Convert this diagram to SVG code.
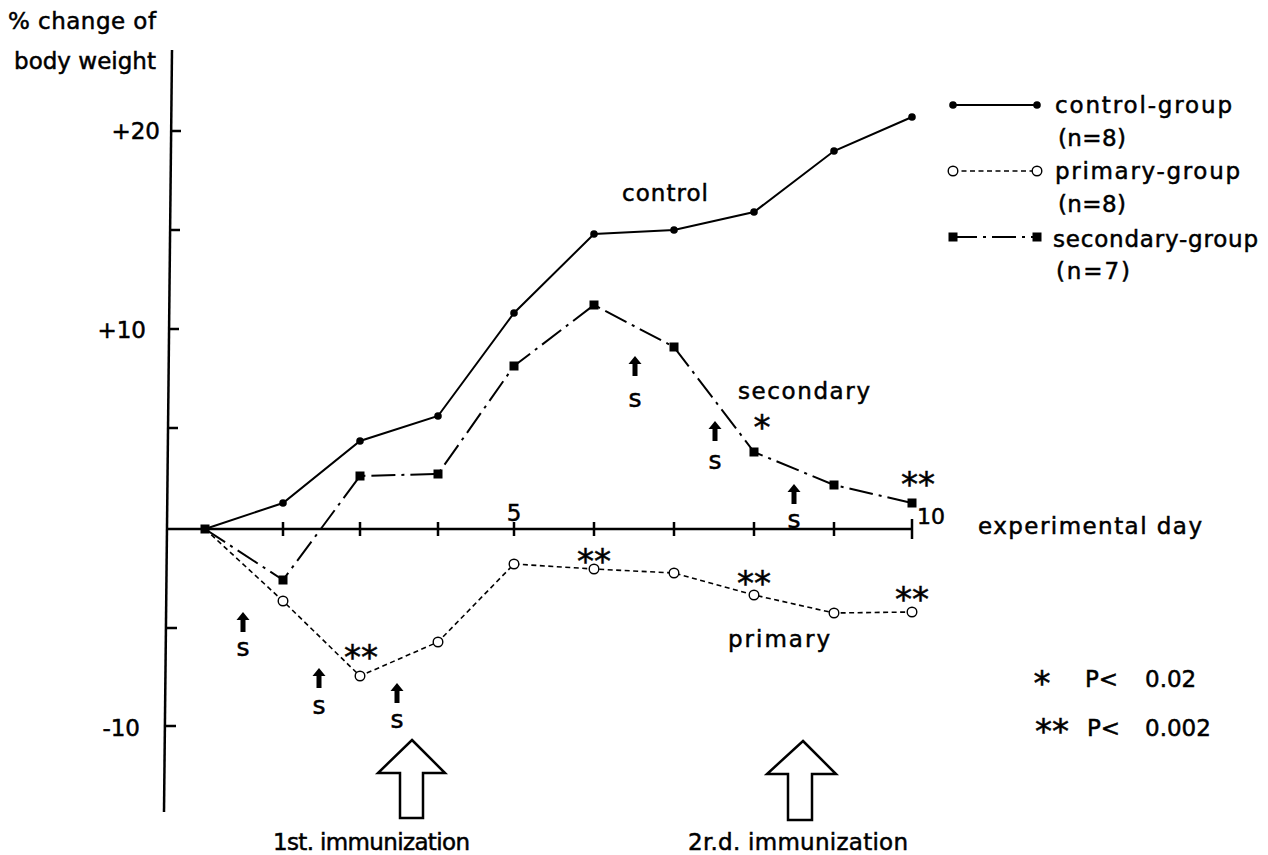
<svg xmlns="http://www.w3.org/2000/svg" width="1268" height="855" viewBox="0 0 1268 855">
<style>
text{font-family:"DejaVu Sans","Liberation Sans",sans-serif;fill:#000;stroke:#000;stroke-width:0.5}
.lbl{font-size:23px}
.ax{stroke:#000;stroke-width:2.5;fill:none}
.ctl{stroke:#000;stroke-width:2;fill:none}
.pri{stroke:#000;stroke-width:1.6;fill:none;stroke-dasharray:5 3.5}
.sec{stroke:#000;stroke-width:2;fill:none;stroke-dasharray:24 6 3 6}
.star{font-size:34px;text-anchor:middle}
.s{font-size:25px;text-anchor:middle}
.big{fill:#fff;stroke:#000;stroke-width:2.5;stroke-linejoin:miter}
</style>
<defs>
<circle id="cdot" r="3.8" fill="#000"/>
<circle id="odot" r="4.8" fill="#fff" stroke="#000" stroke-width="1.4"/>
<rect id="sq" x="-4.5" y="-4.5" width="9" height="9" fill="#000"/>
<path id="sarr" d="M0,0 L6.5,8 L2.5,8 L2.5,20 L-2.5,20 L-2.5,8 L-6.5,8 Z" fill="#000"/>
</defs>
<rect width="1268" height="855" fill="#fff"/>

<g id="axes">
<text class="lbl" x="8" y="29" textLength="148">% change of</text>
<text class="lbl" x="14" y="69" textLength="142">body weight</text>
<path class="ax" d="M172,50 L164,812"/>
<path class="ax" d="M171,131 h10 M170,230 h10 M169,329 h10 M168,428 h10 M167,628 h10 M166,726 h10"/>
<path class="ax" d="M166,529 L912,529"/>
<path class="ax" stroke-width="2" d="M283,522 v14 M360,522 v14 M438,522 v14 M514,522 v14 M594,522 v14 M674,522 v14 M754,522 v14 M834,522 v14 M912,519 v20"/>
<text class="lbl" x="160" y="139" text-anchor="end">+20</text>
<text class="lbl" x="146" y="338" text-anchor="end">+10</text>
<text class="lbl" x="140" y="736" text-anchor="end">-10</text>
<text class="lbl" x="514" y="521" text-anchor="middle">5</text>
<text class="lbl" x="917" y="524" style="font-size:22px">10</text>
<text class="lbl" x="978" y="534" textLength="224">experimental  day</text>
</g>

<g id="connectors">
<polyline class="ctl" points="205,529 283,503 360,441 438,416 514,313 594,234 674,230 754,212 834,151 912,117"/>
<polyline class="sec" points="205,529 283,580 360,476 438,474 514,366 594,305 674,347 754,452 834,485 912,503"/>
<polyline class="pri" points="205,529 283,601 360,676 438,642 514,564 594,569 674,573 754,595 834,613 912,612"/>
</g>

<g id="control-series">
<use href="#cdot" x="205" y="529"/><use href="#cdot" x="283" y="503"/><use href="#cdot" x="360" y="441"/><use href="#cdot" x="438" y="416"/><use href="#cdot" x="514" y="313"/><use href="#cdot" x="594" y="234"/><use href="#cdot" x="674" y="230"/><use href="#cdot" x="754" y="212"/><use href="#cdot" x="834" y="151"/><use href="#cdot" x="912" y="117"/>
<text class="lbl" x="622" y="201" textLength="86">control</text>
</g>

<g id="secondary-series">
<use href="#sq" x="205" y="529"/><use href="#sq" x="283" y="580"/><use href="#sq" x="360" y="476"/><use href="#sq" x="438" y="474"/><use href="#sq" x="514" y="366"/><use href="#sq" x="594" y="305"/><use href="#sq" x="674" y="347"/><use href="#sq" x="754" y="452"/><use href="#sq" x="834" y="485"/><use href="#sq" x="912" y="503"/>
<text class="lbl" x="738" y="399" textLength="132">secondary</text>
<text class="star" x="762" y="439">*</text>
<text class="star" x="918" y="496">**</text>
</g>

<g id="primary-series">
<use href="#odot" x="283" y="601"/><use href="#odot" x="360" y="676"/><use href="#odot" x="438" y="642"/><use href="#odot" x="514" y="564"/><use href="#odot" x="594" y="569"/><use href="#odot" x="674" y="573"/><use href="#odot" x="754" y="595"/><use href="#odot" x="834" y="613"/><use href="#odot" x="912" y="612"/>
<text class="lbl" x="728" y="647" textLength="102">primary</text>
<text class="star" x="361" y="669">**</text>
<text class="star" x="594" y="573">**</text>
<text class="star" x="754" y="595">**</text>
<text class="star" x="912" y="611">**</text>
</g>

<g id="s-markers">
<use href="#sarr" x="243" y="612"/><text class="s" x="243" y="656">s</text>
<use href="#sarr" x="319" y="668"/><text class="s" x="319" y="714">s</text>
<use href="#sarr" x="397" y="683"/><text class="s" x="397" y="728">s</text>
<use href="#sarr" x="635" y="356"/><text class="s" x="635" y="407">s</text>
<use href="#sarr" x="715" y="421"/><text class="s" x="715" y="469">s</text>
<use href="#sarr" x="794" y="484"/><text class="s" x="794" y="528">s</text>
</g>

<g id="immunization-1">
<polygon class="big" points="412,740 445,773 423,773 423,818 400,818 400,773 378,773"/>
<text class="lbl" x="273" y="850" textLength="197">1st. immunization</text>
</g>
<g id="immunization-2">
<polygon class="big" points="803,741 836,774 812,774 812,820 788,820 788,774 767,774"/>
<text class="lbl" x="688" y="850" textLength="220">2r.d. immunization</text>
</g>

<g id="legend">
<line class="ctl" x1="953" y1="105" x2="1037" y2="105"/>
<use href="#cdot" x="953" y="105"/><use href="#cdot" x="1037" y="105"/>
<text class="lbl" x="1055" y="113" textLength="177">control-group</text>
<text class="lbl" x="1058" y="146" textLength="68">(n=8)</text>
<line class="pri" x1="953" y1="171" x2="1037" y2="171"/>
<use href="#odot" x="953" y="171"/><use href="#odot" x="1037" y="171"/>
<text class="lbl" x="1055" y="179" textLength="185">primary-group</text>
<text class="lbl" x="1058" y="212" textLength="68">(n=8)</text>
<line class="sec" x1="953" y1="237" x2="1037" y2="237" stroke-dasharray="38 8 4 8 30"/>
<use href="#sq" x="953" y="237"/><use href="#sq" x="1037" y="237"/>
<text class="lbl" x="1053" y="247" textLength="205">secondary-group</text>
<text class="lbl" x="1056" y="279" textLength="74">(n=7)</text>
</g>

<g id="significance-key">
<text class="star" x="1042" y="695">*</text>
<text class="lbl" x="1085" y="687">P&lt;</text>
<text class="lbl" x="1145" y="687">0.02</text>
<text class="star" x="1052" y="743">**</text>
<text class="lbl" x="1087" y="736">P&lt;</text>
<text class="lbl" x="1145" y="736">0.002</text>
</g>
</svg>
